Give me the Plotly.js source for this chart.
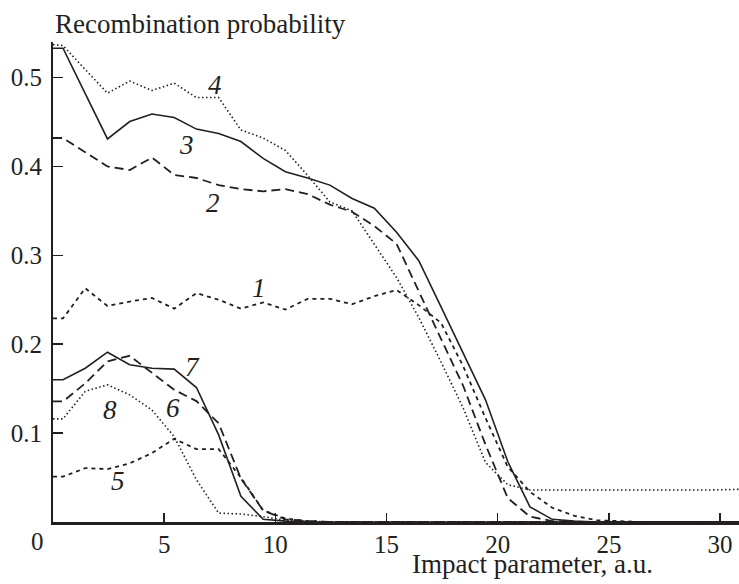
<!DOCTYPE html>
<html>
<head>
<meta charset="utf-8">
<script src="https://cdn.plot.ly/plotly-3.0.1.min.js"></script>
<style>html,body{margin:0;padding:0;background:#fff}#chart{width:739px;height:584px}</style>
</head>
<body>
<div id="chart"></div>
<script>
// Impact parameter grid (a.u.)
const b = [0, 0.45, 1.45, 2.45, 3.45, 4.45, 5.45, 6.45, 7.45, 8.45, 9.45, 10.45, 11.45, 12.45, 13.45, 14.45, 15.45, 16.45, 17.45, 18.45, 19.45, 20.45, 21.45, 22.45, 23.45, 24.45, 25.45, 26.45, 27.45, 28.45, 29.45, 30.45, 30.9];

const curve1 = [0.229, 0.229, 0.263, 0.243, 0.248, 0.252, 0.240, 0.2575, 0.250, 0.240, 0.247, 0.239, 0.251, 0.251, 0.245, 0.254, 0.261, 0.244, 0.224, 0.175, 0.117, 0.062, 0.034, 0.016, 0.007, 0.002, 0.001, 0, 0, 0, 0, 0, 0];
const curve2 = [0.432, 0.432, 0.416, 0.400, 0.396, 0.410, 0.3905, 0.387, 0.379, 0.3745, 0.372, 0.3745, 0.369, 0.357, 0.349, 0.333, 0.313, 0.259, 0.206, 0.153, 0.087, 0.027, 0.006, 0.001, 0, 0, 0, 0, 0, 0, 0, 0, 0];
const curve3 = [0.533, 0.533, 0.482, 0.431, 0.4505, 0.459, 0.455, 0.442, 0.437, 0.428, 0.409, 0.394, 0.387, 0.379, 0.364, 0.353, 0.326, 0.294, 0.242, 0.190, 0.1375, 0.068, 0.017, 0.003, 0.001, 0, 0, 0, 0, 0, 0, 0, 0];
const curve4 = [0.537, 0.536, 0.509, 0.4825, 0.496, 0.4855, 0.4937, 0.4775, 0.4775, 0.441, 0.432, 0.418, 0.390, 0.360, 0.350, 0.313, 0.275, 0.230, 0.180, 0.128, 0.067, 0.042, 0.036, 0.036, 0.036, 0.036, 0.0362, 0.0358, 0.0355, 0.0355, 0.036, 0.0365, 0.0368];
const curve5 = [0.051, 0.051, 0.0606, 0.0595, 0.066, 0.0775, 0.0936, 0.082, 0.082, 0.050, 0.013, 0.004, 0.001, 0, 0, 0, 0, 0, 0, 0, 0, 0, 0, 0, 0, 0, 0, 0, 0, 0, 0, 0, 0];
const curve6 = [0.1356, 0.1356, 0.156, 0.1806, 0.187, 0.1675, 0.1487, 0.136, 0.111, 0.049, 0.013, 0.003, 0.001, 0, 0, 0, 0, 0, 0, 0, 0, 0, 0, 0, 0, 0, 0, 0, 0, 0, 0, 0, 0];
const curve7 = [0.160, 0.160, 0.173, 0.191, 0.177, 0.173, 0.172, 0.1513, 0.098, 0.029, 0.003, 0.001, 0, 0, 0, 0, 0, 0, 0, 0, 0, 0, 0, 0, 0, 0, 0, 0, 0, 0, 0, 0, 0];
const curve8 = [0.116, 0.116, 0.147, 0.1543, 0.143, 0.126, 0.096, 0.0475, 0.010, 0.009, 0.006, 0.002, 0.001, 0, 0, 0, 0, 0, 0, 0, 0, 0, 0, 0, 0, 0, 0, 0, 0, 0, 0, 0, 0];

const curveLabels = ["1", "2", "3", "4", "5", "6", "7", "8"];
const labelX = [9.26, 7.18, 6.02, 7.30, 2.92, 5.39, 6.29, 2.55];
const labelY = [0.263, 0.359, 0.4243, 0.4918, 0.0456, 0.128, 0.1749, 0.126];

const xTicks = [5, 10, 15, 20, 25, 30];
const yTicks = [0.1, 0.2, 0.3, 0.4, 0.5];

const ink = '#231f20';
const shortDash = '4px,4px';
const longDash = '9px,5px';
const dotted = '1.5px,2.5px';

const series = [
  {y: curve1, dash: shortDash, w: 1.8},
  {y: curve2, dash: longDash, w: 1.8},
  {y: curve3, dash: 'solid', w: 1.6},
  {y: curve4, dash: dotted, w: 1.6},
  {y: curve5, dash: shortDash, w: 1.8},
  {y: curve6, dash: longDash, w: 1.8},
  {y: curve7, dash: 'solid', w: 1.6},
  {y: curve8, dash: dotted, w: 1.6}
];

const traces = series.map(s => ({
  x: b, y: s.y, type: 'scatter', mode: 'lines',
  line: {color: ink, width: s.w, dash: s.dash},
  hoverinfo: 'skip', showlegend: false
}));

const serif = '"Liberation Serif", "Times New Roman", serif';

const annotations = curveLabels.map((t, i) => ({
  x: labelX[i], y: labelY[i], xref: 'x', yref: 'y',
  text: '<i>' + t + '</i>', showarrow: false,
  font: {family: serif, size: 27, color: ink},
  xanchor: 'center', yanchor: 'middle'
}));

annotations.push({
  xref: 'paper', yref: 'paper', x: 0, y: 1.0375, xanchor: 'left', yanchor: 'middle',
  text: 'Recombination probability', showarrow: false,
  font: {family: serif, size: 27, color: ink}
});
annotations.push({
  xref: 'paper', yref: 'paper', x: 0.699, y: -0.0875, xanchor: 'center', yanchor: 'middle',
  text: 'Impact parameter, a.u.', showarrow: false,
  font: {family: serif, size: 27, color: ink}
});
annotations.push({
  xref: 'paper', yref: 'paper', x: -0.0233, y: -0.0415, xanchor: 'center', yanchor: 'middle',
  text: '0', showarrow: false,
  font: {family: serif, size: 25, color: ink}
});

const layout = {
  width: 739, height: 584,
  margin: {l: 53, r: 0, t: 42, b: 62},
  paper_bgcolor: '#fff', plot_bgcolor: '#fff',
  showlegend: false,
  font: {family: serif, color: ink},
  xaxis: {
    range: [0, 30.85], showgrid: false, zeroline: false,
    showline: true, linecolor: ink, linewidth: 2.5,
    ticks: 'inside', ticklen: 9, tickwidth: 1.5, tickcolor: ink,
    tickmode: 'array', tickvals: xTicks, ticktext: xTicks.map(String),
    tickfont: {family: serif, size: 25, color: ink},
    ticklabelstandoff: -2,
    automargin: false, fixedrange: true
  },
  yaxis: {
    range: [0, 0.54], showgrid: false, zeroline: false,
    showline: true, linecolor: ink, linewidth: 2,
    ticks: 'inside', ticklen: 10, tickwidth: 1.5, tickcolor: ink,
    tickmode: 'array', tickvals: yTicks, ticktext: yTicks.map(v => v.toFixed(1)),
    tickfont: {family: serif, size: 25, color: ink},
    ticklabelstandoff: 4,
    automargin: false, fixedrange: true
  },
  annotations: annotations
};

Plotly.newPlot('chart', traces, layout, {staticPlot: true, displayModeBar: false});
</script>
</body>
</html>
